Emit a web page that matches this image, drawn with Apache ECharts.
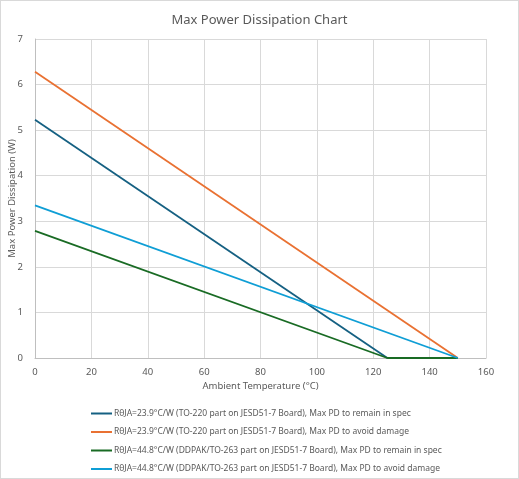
<!DOCTYPE html>
<html><head><meta charset="utf-8">
<script src="https://cdn.jsdelivr.net/npm/echarts@6/dist/echarts.min.js"></script>
<style>
html,body{margin:0;padding:0;background:#fff;}
#c{width:517px;height:477px;border:1px solid #d9d9d9;}
</style></head><body>
<div id="c"></div>
<script>
const temps = [0, 125, 150];
const names = [
  'RθJA=23.9°C/W (TO-220 part on JESD51-7 Board), Max PD to remain in spec',
  'RθJA=23.9°C/W (TO-220 part on JESD51-7 Board), Max PD to avoid damage',
  'RθJA=44.8°C/W (DDPAK/TO-263 part on JESD51-7 Board), Max PD to remain in spec',
  'RθJA=44.8°C/W (DDPAK/TO-263 part on JESD51-7 Board), Max PD to avoid damage'
];
const to220Spec   = [5.23, 0, null];
const to220Damage = [6.28, null, 0];
const ddpakSpec   = [2.79, 0, 0];
const ddpakDamage = [3.35, null, 0];
const colors = ['#156082', '#E97132', '#196B24', '#0F9ED5'];
const seriesVals = [to220Spec, to220Damage, ddpakSpec, ddpakDamage];

const font = 'Noto Sans, sans-serif';
const chart = echarts.init(document.getElementById('c'), null, {renderer: 'canvas'});
const series = seriesVals.map((vals, i) => ({
  name: names[i], type: 'line', showSymbol: false, connectNulls: true,
  data: temps.map((t, j) => vals[j] === null ? null : [t, vals[j]]).filter(p => p),
  lineStyle: {color: colors[i], width: 1.8}, itemStyle: {color: colors[i]}
}));
const legends = names.map((n, i) => ({
  data: [n], left: 85, top: 403 + i * 18.5, icon: 'rect', itemWidth: 21, itemHeight: 2,
  textStyle: {fontSize: 8.5, color: '#595959', fontFamily: font, padding: [0, 0, 0, -3]},
  selectedMode: false
}));
chart.setOption({
  animation: false,
  title: {text: 'Max Power Dissipation Chart', left: 'center', top: 8,
    textStyle: {fontSize: 13, fontWeight: 'normal', color: '#595959', fontFamily: font}},
  legend: legends,
  grid: {left: 34, right: 32, top: 38, bottom: 120, containLabel: false, outerBoundsMode: 'none'},
  xAxis: {type: 'value', min: 0, max: 160, interval: 20,
    name: 'Ambient Temperature (°C)', nameLocation: 'middle', nameGap: 23, nameMoveOverlap: false,
    nameTextStyle: {fontSize: 9.5, color: '#595959', fontFamily: font},
    axisLine: {show: true, lineStyle: {color: '#bfbfbf'}}, axisTick: {show: false},
    axisLabel: {fontSize: 9.5, color: '#595959', fontFamily: font, margin: 9},
    splitLine: {show: true, lineStyle: {color: '#d9d9d9'}}},
  yAxis: {type: 'value', min: 0, max: 7, interval: 1,
    name: 'Max Power Dissipation (W)', nameLocation: 'middle', nameGap: 18, nameMoveOverlap: false,
    nameTextStyle: {fontSize: 9.5, color: '#595959', fontFamily: font},
    axisLine: {show: true, lineStyle: {color: '#bfbfbf'}}, axisTick: {show: false},
    axisLabel: {fontSize: 9.5, color: '#595959', fontFamily: font, margin: 12},
    splitLine: {show: true, lineStyle: {color: '#d9d9d9'}}},
  series: series
});
</script></body></html>
